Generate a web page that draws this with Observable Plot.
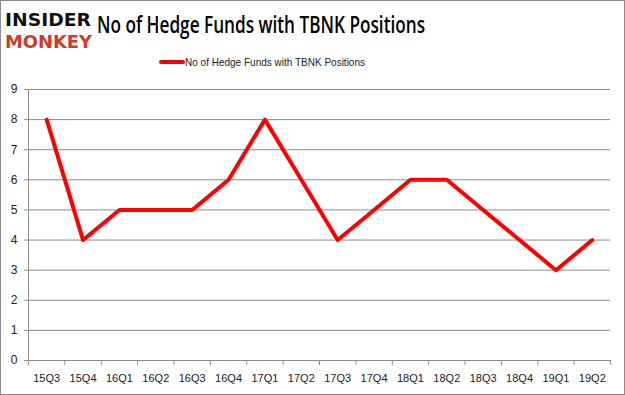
<!DOCTYPE html>
<html><head><meta charset="utf-8">
<script src="https://cdn.jsdelivr.net/npm/d3@7"></script>
<script src="https://cdn.jsdelivr.net/npm/@observablehq/plot@0.6"></script>
<style>
html,body{margin:0;padding:0;background:#fff;}
#wrap{position:relative;width:625px;height:395px;overflow:hidden;font-family:"Liberation Sans",Arial,sans-serif;}
#frame{position:absolute;left:0;top:0;width:623px;height:393px;border:1px solid #8c8c8c;pointer-events:none;}
#chart{position:absolute;left:0;top:0;}
#head{position:absolute;left:0;top:0;}
</style></head>
<body>
<div id="wrap">
  <div id="chart"></div>
  <svg id="head" width="625" height="80">
    <text x="5" y="26" font-family="DejaVu Sans" font-weight="bold" font-size="18" fill="#111" textLength="86" lengthAdjust="spacingAndGlyphs">INSIDER</text>
    <text x="5" y="48" font-family="DejaVu Sans" font-weight="bold" font-size="18" fill="#d13a2a" textLength="87" lengthAdjust="spacingAndGlyphs">MONKEY</text>
    <text x="97" y="33" font-family="Open Sans" font-weight="600" font-size="23" fill="#000" textLength="328" lengthAdjust="spacingAndGlyphs">No of Hedge Funds with TBNK Positions</text>
    <line x1="161" y1="62" x2="183" y2="62" stroke="#ff0000" stroke-width="4" stroke-linecap="round"/>
    <text x="185" y="66" font-family="Liberation Sans" font-size="11" fill="#222" textLength="180" lengthAdjust="spacingAndGlyphs">No of Hedge Funds with TBNK Positions</text>
  </svg>
  <div id="frame"></div>
</div>
<script>
const categories = ["15Q3","15Q4","16Q1","16Q2","16Q3","16Q4","17Q1","17Q2","17Q3","17Q4","18Q1","18Q2","18Q3","18Q4","19Q1","19Q2"];
const values = [8,4,5,5,5,6,8,6,4,5,6,6,5,4,3,4];
const yTicks = [0,1,2,3,4,5,6,7,8,9];

const data = categories.map((c,i)=>({i, c, v: values[i]}));
const centers = categories.map((c,i)=>i);
const bounds = d3.range(categories.length+1).map(i=>i-0.5);

const plot = Plot.plot({
  width: 625, height: 395,
  marginTop: 89, marginBottom: 35, marginLeft: 28, marginRight: 15,
  style: {fontFamily: "Liberation Sans, Arial, sans-serif", fontSize: "11px", color: "#222", background: "transparent"},
  x: {type: "linear", domain: [-0.5, categories.length-0.5]},
  y: {domain: [0, 9]},
  marks: [
    Plot.gridY(yTicks, {stroke: "#8c8c8c", strokeOpacity: 1, strokeWidth: 1}),
    Plot.ruleX([-0.5], {stroke: "#8c8c8c"}),
    Plot.ruleY([0], {stroke: "#8c8c8c"}),
    Plot.axisY(yTicks, {tickSize: 4, tickPadding: 7, stroke: "#8c8c8c", fill: "#222", label: null, fontSize: 12}),
    Plot.axisX(bounds, {tickSize: 5, tickFormat: () => "", stroke: "#8c8c8c", label: null}),
    Plot.axisX(centers, {tickSize: 0, tickPadding: 14, tickFormat: i => categories[i], fill: "#222", label: null}),
    Plot.line(data, {x: "i", y: "v", stroke: "#ff0000", strokeWidth: 4, strokeLinejoin: "round"})
  ]
});
document.getElementById("chart").appendChild(plot);
</script>
</body></html>
